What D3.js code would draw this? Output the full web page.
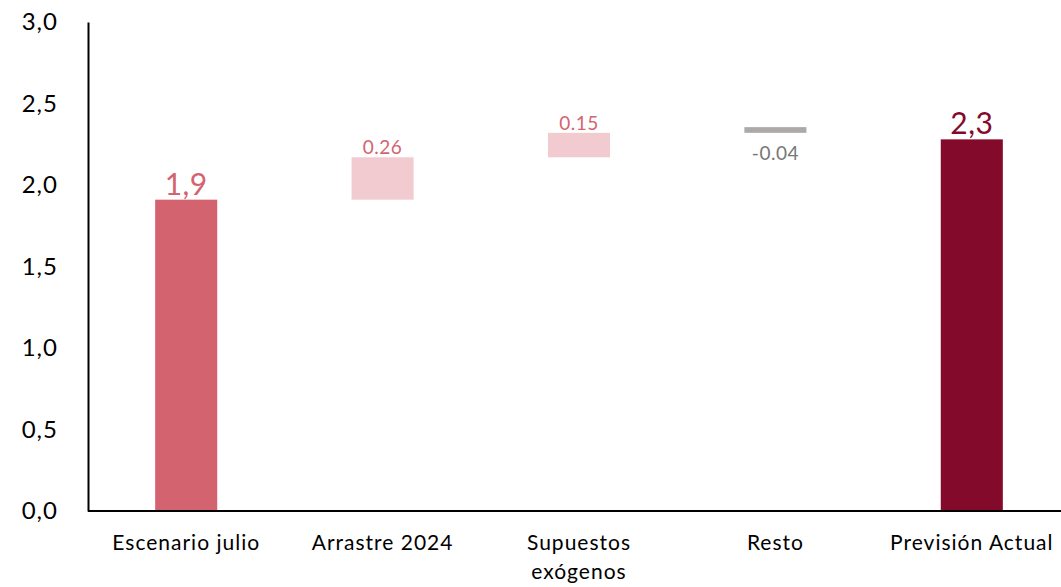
<!DOCTYPE html>
<html>
<head>
<meta charset="utf-8">
<script src="https://cdn.jsdelivr.net/npm/d3@7"></script>
<style>
  body { margin: 0; background: #fff; }
  text { font-family: Lato, "Open Sans", sans-serif; }
</style>
</head>
<body>
<div id="chart"></div>
<script>
// waterfall data
var categories = ["Escenario julio", "Arrastre 2024", "Supuestos exógenos", "Resto", "Previsión Actual"];
var barStart = [0, 1.91, 2.17, 2.32, 0];
var barEnd = [1.91, 2.17, 2.32, 2.355, 2.28];
var valueLabels = ["1,9", "0.26", "0.15", "-0.04", "2,3"];
var yTicks = [0, 0.5, 1, 1.5, 2, 2.5, 3];

var colors = ["#d46370", "#f2cbd0", "#f2cbd0", "#ada9a9", "#840a2b"];
var labelColors = ["#d46370", "#d46370", "#d46370", "#777777", "#840a2b"];
var labelSizes = [30, 19, 19, 19, 30];

var width = 1061, height = 587;
var margin = { top: 22, right: -9, bottom: 76, left: 88 };

var svg = d3.select("#chart").append("svg")
    .attr("width", width)
    .attr("height", height);

var x = d3.scaleBand()
    .domain(categories)
    .range([margin.left, width - margin.right])
    .paddingInner(0.684)
    .paddingOuter(0.342);

var y = d3.scaleLinear()
    .domain([0, 3])
    .range([height - margin.bottom, margin.top]);

// bars
svg.selectAll("rect.bar")
    .data(categories)
    .enter().append("rect")
    .attr("class", "bar")
    .attr("x", function(d) { return x(d); })
    .attr("width", x.bandwidth())
    .attr("y", function(d, i) { return y(Math.max(barStart[i], barEnd[i])); })
    .attr("height", function(d, i) { return Math.abs(y(barStart[i]) - y(barEnd[i])); })
    .attr("fill", function(d, i) { return colors[i]; });

// value labels
svg.selectAll("text.val")
    .data(categories)
    .enter().append("text")
    .attr("class", "val")
    .attr("x", function(d) { return x(d) + x.bandwidth() / 2; })
    .attr("y", function(d, i) {
        if (i === 3) return y(barStart[i]) + 27;
        return y(Math.max(barStart[i], barEnd[i])) - (labelSizes[i] > 20 ? 5 : 3);
    })
    .attr("text-anchor", "middle")
    .style("font-size", function(d, i) { return labelSizes[i] + "px"; })
    .style("letter-spacing", "0.5px")
    .attr("fill", function(d, i) { return labelColors[i]; })
    .text(function(d, i) { return valueLabels[i]; });

// y axis
var yAxis = svg.append("g")
    .attr("transform", "translate(" + margin.left + ",0)")
    .call(d3.axisLeft(y).tickValues(yTicks).tickSize(0).tickPadding(30)
        .tickFormat(function(d) { return d3.format(".1f")(d).replace(".", ","); }));
yAxis.select(".domain").attr("stroke", "#000").attr("stroke-width", 2);
yAxis.selectAll("text").style("font-size", "24px").style("letter-spacing", "1px").attr("fill", "#000");

// x axis
var xAxis = svg.append("g")
    .attr("transform", "translate(0," + y(0) + ")")
    .call(d3.axisBottom(x).tickSize(0).tickPadding(24));
xAxis.select(".domain").attr("stroke", "#000").attr("stroke-width", 2)
    .attr("d", "M" + margin.left + ",0H" + width);
xAxis.selectAll("text").style("font-size", "21px").style("letter-spacing", "1px").attr("fill", "#000")
    .each(function(d) {
        if (d === "Supuestos exógenos") {
            var t = d3.select(this).text(null);
            t.append("tspan").attr("x", 0).text("Supuestos");
            t.append("tspan").attr("x", 0).attr("dy", "1.4em").text("exógenos");
        }
    });
</script>
</body>
</html>
